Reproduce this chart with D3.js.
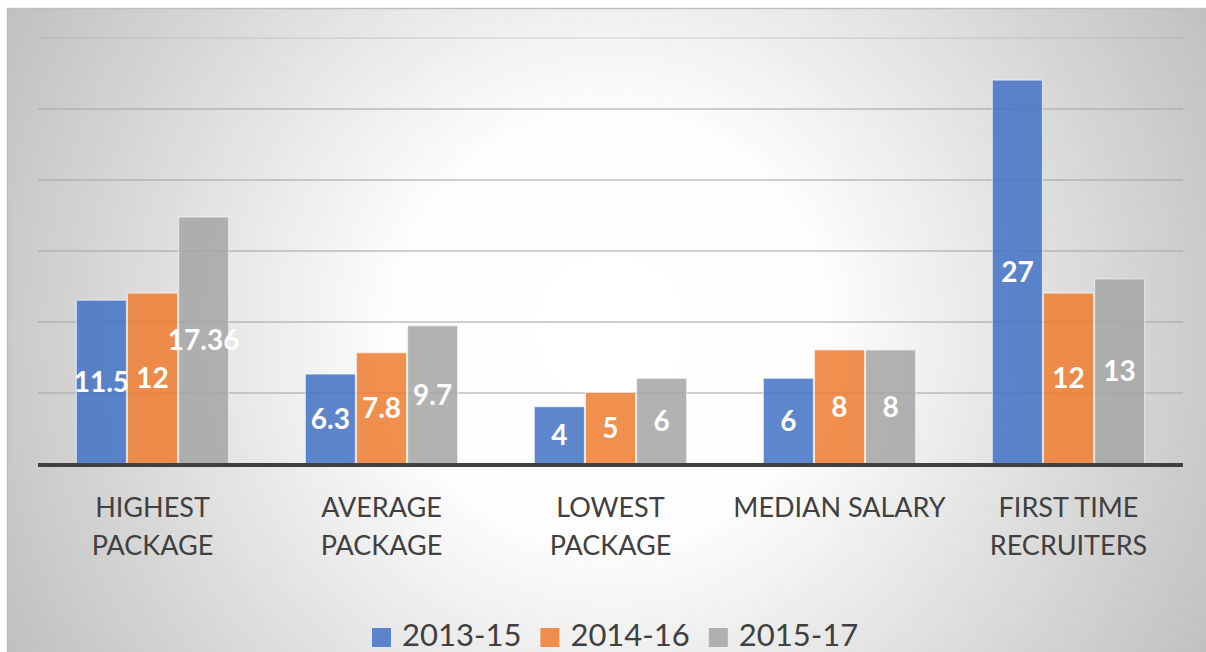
<!DOCTYPE html>
<meta charset="utf-8">
<style>
body { margin: 0; background: #fff; }
text { font-family: Lato, "Open Sans", sans-serif; }
</style>
<svg width="1206" height="652"></svg>
<script src="https://cdn.jsdelivr.net/npm/d3@7"></script>
<script>

var categories = [["HIGHEST", "PACKAGE"], ["AVERAGE", "PACKAGE"], ["LOWEST", "PACKAGE"], ["MEDIAN SALARY"], ["FIRST TIME", "RECRUITERS"]];
var series = ["2013-15", "2014-16", "2015-17"];
var colors = ["#4472C4", "#ED7D31", "#A5A5A5"];
var values2013 = [11.5, 6.3, 4, 6, 27];
var values2014 = [12, 7.8, 5, 8, 12];
var values2015 = [17.36, 9.7, 6, 8, 13];
var labels2015 = ["17.36", "9.7", "6", "8", "13"];

var svg = d3.select("svg");
var catKeys = categories.map(function(c) { return c.join(" "); });
var allValues = [values2013, values2014, values2015];

// background
var defs = svg.append("defs");
var grad = defs.append("radialGradient")
    .attr("id", "bg")
    .attr("gradientUnits", "userSpaceOnUse")
    .attr("cx", 610).attr("cy", 330).attr("r", 720);
grad.append("stop").attr("offset", 0).attr("stop-color", "#ffffff");
grad.append("stop").attr("offset", 0.3).attr("stop-color", "#fdfdfd");
grad.append("stop").attr("offset", 1).attr("stop-color", "#bbbbbb");

svg.append("rect")
    .attr("x", 7.5).attr("y", 8.5)
    .attr("width", 1210).attr("height", 660)
    .attr("fill", "url(#bg)")
    .attr("stroke", "#bfbfbf")
    .attr("stroke-width", 1.5);

var x0 = d3.scaleBand()
    .domain(catKeys)
    .range([38, 1183])
    .paddingInner(0.335)
    .paddingOuter(0.1675);

var x1 = d3.scaleBand()
    .domain(series)
    .range([0, x0.bandwidth()])
    .paddingInner(0.02);

var y = d3.scaleLinear()
    .domain([0, 30])
    .range([463.5, 37.5]);

// gridlines
var grid = svg.append("g")
    .attr("transform", "translate(38,0)")
    .call(d3.axisLeft(y).tickValues([5, 10, 15, 20, 25, 30]).tickSize(-1145).tickFormat(""));
grid.select(".domain").remove();
grid.selectAll(".tick line")
    .attr("stroke", "#a8a8a8")
    .attr("stroke-opacity", function(d) { return d == 30 ? 0.35 : 0.75; })
    .attr("stroke-width", 1.5);

// bars
var groups = svg.append("g").selectAll("g")
    .data(catKeys)
    .enter().append("g")
    .attr("transform", function(d) { return "translate(" + x0(d) + ",0)"; });

function cells(d, i) {
  return series.map(function(s, j) { return {s: s, j: j, v: allValues[j][i], i: i}; });
}

groups.selectAll("rect")
    .data(cells)
    .enter().append("rect")
    .attr("x", function(d) { return x1(d.s); })
    .attr("y", function(d) { return y(d.v); })
    .attr("width", x1.bandwidth())
    .attr("height", function(d) { return y(0) - y(d.v); })
    .attr("fill", function(d) { return colors[d.j]; })
    .attr("fill-opacity", 0.86)
    .attr("stroke", "#ffffff")
    .attr("stroke-opacity", 0.55)
    .attr("stroke-width", 1.2);

groups.selectAll("text.val")
    .data(cells)
    .enter().append("text")
    .attr("class", "val")
    .attr("x", function(d) { return x1(d.s) + x1.bandwidth() / 2; })
    .attr("y", function(d) { return (y(d.v) + y(0)) / 2; })
    .attr("dy", "0.36em")
    .attr("text-anchor", "middle")
    .attr("fill", "#fff")
    .style("font-size", "28px")
    .style("font-weight", "bold")
    .text(function(d) { return d.j == 2 ? labels2015[d.i] : String(d.v); });

// baseline
svg.append("line")
    .attr("x1", 38).attr("x2", 1183)
    .attr("y1", y(0) + 1.5).attr("y2", y(0) + 1.5)
    .attr("stroke", "#404040")
    .attr("stroke-width", 4);

// category labels
var catLabels = svg.append("g").selectAll("text")
    .data(categories)
    .enter().append("text")
    .attr("x", function(d, i) { return x0(catKeys[i]) + x0.bandwidth() / 2; })
    .attr("y", 517)
    .attr("text-anchor", "middle")
    .attr("fill", "#404040")
    .style("font-size", "27px");
catLabels.selectAll("tspan")
    .data(function(d) { return d; })
    .enter().append("tspan")
    .attr("x", function() { return d3.select(this.parentNode).attr("x"); })
    .attr("dy", function(d, i) { return i == 0 ? 0 : 38; })
    .text(function(d) { return d; });

// legend
var legend = svg.append("g");
var lx = 372;
series.forEach(function(s, i) {
  legend.append("rect")
    .attr("x", lx).attr("y", 628)
    .attr("width", 19).attr("height", 19)
    .attr("fill", colors[i])
    .attr("fill-opacity", 0.86);
  var t = legend.append("text")
    .attr("x", lx + 30).attr("y", 646)
    .attr("fill", "#404040")
    .style("font-size", "31px")
    .text(s);
  lx += 30 + t.node().getComputedTextLength() + 19;
});

</script>
